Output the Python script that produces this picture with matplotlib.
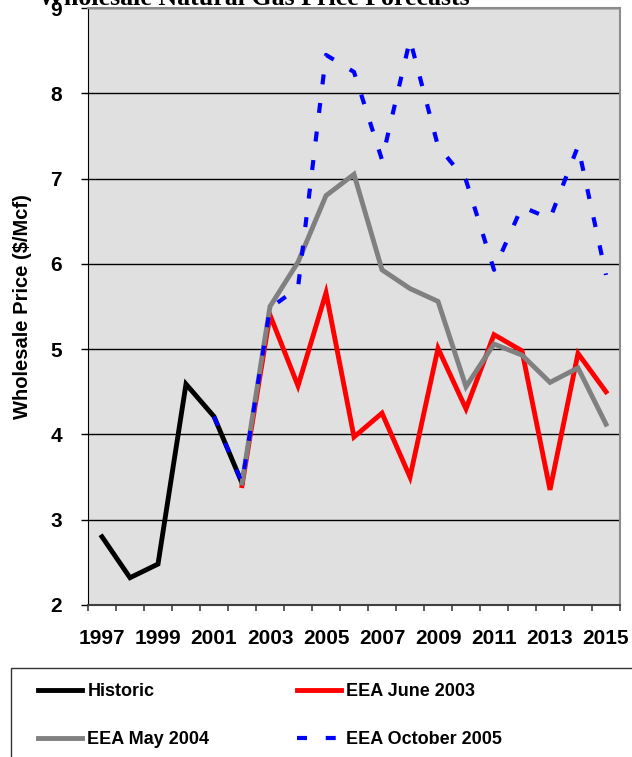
import numpy as np
import matplotlib
matplotlib.use('agg')
import matplotlib.pyplot as plt
from matplotlib.patches import Rectangle
from matplotlib.ticker import FixedLocator

plt.rcParams['font.family'] = ['Liberation Sans', 'DejaVu Sans']
plt.rcParams['font.weight'] = 'bold'

# 年份（分类轴）
years = list(range(1997, 2016))

# 历史价格 1997-2002
historic = [2.80, 2.32, 2.48, 4.59, 4.21, 3.43]
# 各期预测（起点接上历史序列）
eea_jun2003 = [3.40, 5.40, 4.57, 5.66, 3.97, 4.25, 3.50, 5.01, 4.30, 5.17, 4.98, 3.35, 4.95, 4.50]   # 2002-2015
eea_may2004 = [3.43, 5.50, 6.02, 6.80, 7.05, 5.93, 5.71, 5.56, 4.56, 5.06, 4.93, 4.61, 4.78, 4.12]   # 2002-2015
eea_oct2005 = [4.21, 3.43, 5.48, 5.72, 8.45, 8.25, 7.22, 8.63, 7.38, 6.98, 5.93, 6.67, 6.53, 7.38, 5.87]  # 2001-2015

x_all = np.arange(len(years))
x_hist = x_all[:len(historic)]
x_jun = x_all[5:5 + len(eea_jun2003)]
x_may = x_all[5:5 + len(eea_may2004)]
x_oct = x_all[4:4 + len(eea_oct2005)]

fig = plt.figure(figsize=(6.32, 7.57), dpi=100)
ax = fig.add_axes([88 / 632, 152 / 757, 532 / 632, 597 / 757])
ax.set_facecolor('#e0e0e0')

h_hist, = ax.plot(x_hist, historic, color='black', lw=3.5, solid_joinstyle='miter', label='Historic', zorder=3)
h_jun, = ax.plot(x_jun, eea_jun2003, color='#ff0000', lw=3.5, solid_joinstyle='miter', label='EEA June 2003', zorder=4)
h_may, = ax.plot(x_may, eea_may2004, color='#808080', lw=3.5, solid_joinstyle='miter', label='EEA May 2004', zorder=5)
h_oct, = ax.plot(x_oct, eea_oct2005, color='#0000ff', lw=3.0, dashes=(2.4, 4.5), dash_capstyle='butt',
                 label='EEA October 2005', zorder=6)

ax.set_xlim(-0.5, len(years) - 0.5)
ax.set_ylim(2, 9)
ax.set_yticks(range(2, 10))
ax.yaxis.grid(True, color='black', lw=1)
ax.set_axisbelow(True)

# 每隔一年标注，刻度线落在分类边界
ax.set_xticks(x_all[::2])
ax.set_xticklabels([str(y) for y in years[::2]])
ax.xaxis.set_minor_locator(FixedLocator(np.arange(-0.5, len(years), 1.0)))
ax.tick_params(axis='x', which='major', length=0, pad=17.5, labelsize=15)
ax.tick_params(axis='x', which='minor', length=4.3, width=1.2, color='#404040')
ax.tick_params(axis='y', length=5, width=1, pad=13.7, labelsize=15)

ax.set_ylabel('Wholesale Price ($/Mcf)', fontsize=14.5, fontweight='bold')
ax.yaxis.set_label_coords(-0.105, 0.5)

ax.spines['left'].set_color('black')
ax.spines['bottom'].set_color('#404040')
ax.spines['bottom'].set_linewidth(1.5)
for s in ('top', 'right'):
    ax.spines[s].set_color('#8c8c8c')
    ax.spines[s].set_linewidth(1.5)

fig.text(254 / 632, 1 - 5 / 757, 'Wholesale Natural Gas Price Forecasts',
         ha='center', va='baseline', fontsize=18.6, fontweight='bold',
         family=['Liberation Serif', 'DejaVu Serif'])

# 图例框（超出画布右侧和底部）
fig.patches.append(Rectangle((11 / 632, -0.05), 640 / 632, 0.05 + 89 / 757,
                             transform=fig.transFigure, facecolor='white',
                             edgecolor='#333333', lw=1.0, clip_on=False))
fig.legend(handles=[h_hist, h_may, h_jun, h_oct],
           loc='upper left', bbox_to_anchor=(38 / 632, 1 - 683 / 757), ncol=2,
           frameon=False, handlelength=2.45, handletextpad=0.28,
           columnspacing=4.85, labelspacing=1.72, borderpad=0, borderaxespad=0,
           prop={'weight': 'bold', 'size': 13})

fig.savefig('out.png', dpi=100)
